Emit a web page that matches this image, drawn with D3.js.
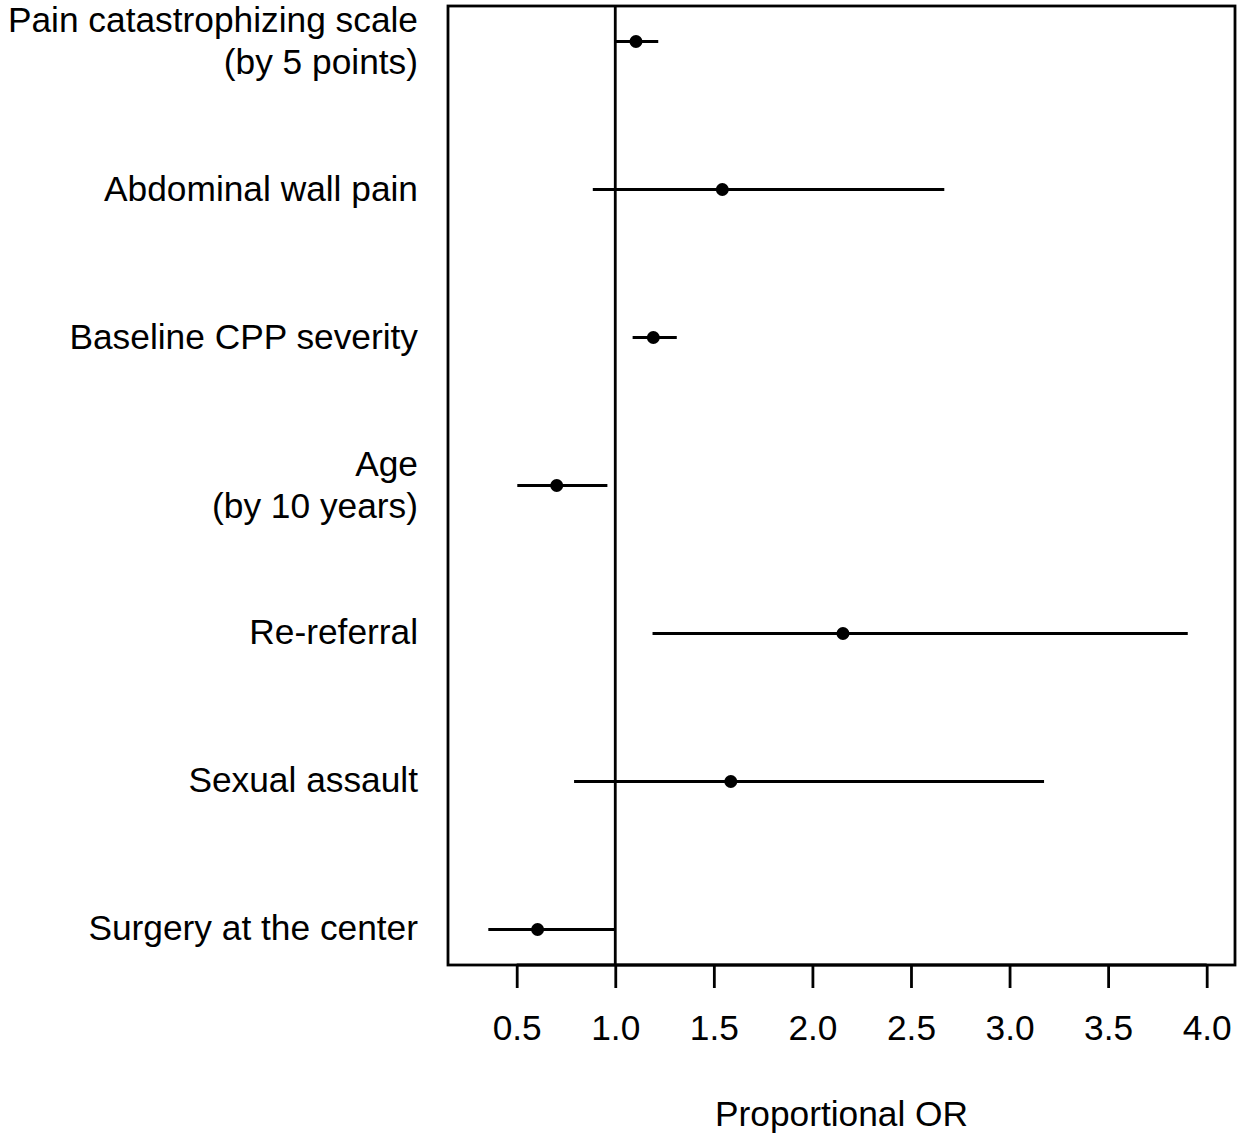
<!DOCTYPE html>
<html>
<head>
<meta charset="utf-8">
<script src="https://cdn.jsdelivr.net/npm/d3@7"></script>
<style>
    body { margin: 0; background: #fff; }
    text { font-family: "Liberation Sans", Arial, sans-serif; fill: #000; }
</style>
</head>
<body>
<div id="chart"></div>
<script>
// forest plot data
const labels = [
    ['Pain catastrophizing scale', '(by 5 points)'],
    ['Abdominal wall pain'],
    ['Baseline CPP severity'],
    ['Age', '(by 10 years)'],
    ['Re-referral'],
    ['Sexual assault'],
    ['Surgery at the center']
];
const estimates = [1.105, 1.543, 1.193, 0.703, 2.155, 1.586, 0.606];
const lower = [1.00, 0.886, 1.088, 0.503, 1.189, 0.791, 0.356];
const upper = [1.218, 2.669, 1.312, 0.960, 3.904, 3.175, 1.00];
const xTicks = [0.5, 1.0, 1.5, 2.0, 2.5, 3.0, 3.5, 4.0];

const width = 1243, height = 1141;
const margin = { top: 6, right: 8, bottom: 176, left: 448 };
const fontSize = 35.3;
const lw = 2.8;

const svg = d3.select('#chart').append('svg')
    .attr('width', width)
    .attr('height', height);

const x = d3.scaleLinear()
    .domain([0.1515, 4.1436])
    .range([margin.left, width - margin.right]);

const y = d3.scalePoint()
    .domain(d3.range(labels.length))
    .range([margin.top, height - margin.bottom])
    .padding(0.24);

const plotBottom = height - margin.bottom;

// reference line at OR = 1
svg.append('line')
    .attr('x1', x(1)).attr('x2', x(1))
    .attr('y1', margin.top).attr('y2', plotBottom)
    .attr('stroke', '#000').attr('stroke-width', lw);

// confidence intervals
const rows = svg.append('g').selectAll('g')
    .data(d3.range(labels.length))
    .join('g');

rows.append('line')
    .attr('x1', i => x(lower[i]))
    .attr('x2', i => x(upper[i]))
    .attr('y1', i => y(i))
    .attr('y2', i => y(i))
    .attr('stroke', '#000')
    .attr('stroke-width', lw);

rows.append('circle')
    .attr('cx', i => x(estimates[i]))
    .attr('cy', i => y(i))
    .attr('r', 6.5)
    .attr('fill', '#000');

// row labels, right-aligned, multi-line centred on the row
const lineGap = 42;
rows.append('text')
    .attr('text-anchor', 'end')
    .attr('font-size', fontSize)
    .selectAll('tspan')
    .data(i => labels[i].map((t, k) => ({ t, k, n: labels[i].length, i })))
    .join('tspan')
    .attr('x', 418)
    .attr('y', d => y(d.i) + (d.k - (d.n - 1) / 2) * lineGap + 11)
    .text(d => d.t);

// box
svg.append('rect')
    .attr('x', margin.left)
    .attr('y', margin.top)
    .attr('width', width - margin.right - margin.left)
    .attr('height', plotBottom - margin.top)
    .attr('fill', 'none')
    .attr('stroke', '#000')
    .attr('stroke-width', lw);

// x axis
const xAxis = svg.append('g')
    .attr('transform', `translate(0, ${plotBottom})`)
    .call(d3.axisBottom(x)
        .tickValues(xTicks)
        .tickFormat(d3.format('.1f'))
        .tickSize(23)
        .tickPadding(27));

xAxis.select('.domain')
    .attr('d', `M${x(xTicks[0])},0H${x(xTicks[xTicks.length - 1])}`)
    .attr('stroke-width', lw);
xAxis.selectAll('.tick line').attr('stroke-width', lw);
xAxis.selectAll('.tick text')
    .attr('font-size', fontSize)
    .attr('font-family', '"Liberation Sans", Arial, sans-serif')
    .attr('fill', '#000');

// axis title centred under the plot region
svg.append('text')
    .attr('x', (margin.left + width - margin.right) / 2)
    .attr('y', 1126)
    .attr('text-anchor', 'middle')
    .attr('font-size', fontSize)
    .text('Proportional OR');
</script>
</body>
</html>
